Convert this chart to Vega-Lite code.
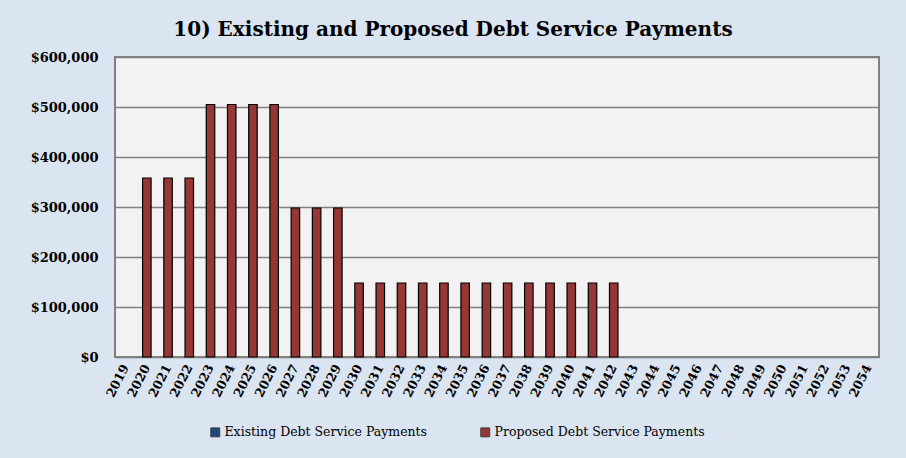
{
  "$schema": "https://vega.github.io/schema/vega-lite/v6.json",
  "width": 764,
  "height": 300,
  "autosize": "none",
  "padding": {"left": 115, "top": 57, "right": 27, "bottom": 101},
  "background": "#dbe5f1",
  "title": {
    "text": "10) Existing and Proposed Debt Service Payments",
    "font": "DejaVu Serif",
    "fontSize": 20,
    "fontWeight": "bold",
    "color": "#000000",
    "anchor": "middle",
    "dx": -44,
    "offset": 11
  },
  "data": {
    "values": [
      {"year": "2019", "series": "Existing Debt Service Payments", "amount": 0},
      {"year": "2020", "series": "Existing Debt Service Payments", "amount": 0},
      {"year": "2021", "series": "Existing Debt Service Payments", "amount": 0},
      {"year": "2022", "series": "Existing Debt Service Payments", "amount": 0},
      {"year": "2023", "series": "Existing Debt Service Payments", "amount": 0},
      {"year": "2024", "series": "Existing Debt Service Payments", "amount": 0},
      {"year": "2025", "series": "Existing Debt Service Payments", "amount": 0},
      {"year": "2026", "series": "Existing Debt Service Payments", "amount": 0},
      {"year": "2027", "series": "Existing Debt Service Payments", "amount": 0},
      {"year": "2028", "series": "Existing Debt Service Payments", "amount": 0},
      {"year": "2029", "series": "Existing Debt Service Payments", "amount": 0},
      {"year": "2030", "series": "Existing Debt Service Payments", "amount": 0},
      {"year": "2031", "series": "Existing Debt Service Payments", "amount": 0},
      {"year": "2032", "series": "Existing Debt Service Payments", "amount": 0},
      {"year": "2033", "series": "Existing Debt Service Payments", "amount": 0},
      {"year": "2034", "series": "Existing Debt Service Payments", "amount": 0},
      {"year": "2035", "series": "Existing Debt Service Payments", "amount": 0},
      {"year": "2036", "series": "Existing Debt Service Payments", "amount": 0},
      {"year": "2037", "series": "Existing Debt Service Payments", "amount": 0},
      {"year": "2038", "series": "Existing Debt Service Payments", "amount": 0},
      {"year": "2039", "series": "Existing Debt Service Payments", "amount": 0},
      {"year": "2040", "series": "Existing Debt Service Payments", "amount": 0},
      {"year": "2041", "series": "Existing Debt Service Payments", "amount": 0},
      {"year": "2042", "series": "Existing Debt Service Payments", "amount": 0},
      {"year": "2043", "series": "Existing Debt Service Payments", "amount": 0},
      {"year": "2044", "series": "Existing Debt Service Payments", "amount": 0},
      {"year": "2045", "series": "Existing Debt Service Payments", "amount": 0},
      {"year": "2046", "series": "Existing Debt Service Payments", "amount": 0},
      {"year": "2047", "series": "Existing Debt Service Payments", "amount": 0},
      {"year": "2048", "series": "Existing Debt Service Payments", "amount": 0},
      {"year": "2049", "series": "Existing Debt Service Payments", "amount": 0},
      {"year": "2050", "series": "Existing Debt Service Payments", "amount": 0},
      {"year": "2051", "series": "Existing Debt Service Payments", "amount": 0},
      {"year": "2052", "series": "Existing Debt Service Payments", "amount": 0},
      {"year": "2053", "series": "Existing Debt Service Payments", "amount": 0},
      {"year": "2054", "series": "Existing Debt Service Payments", "amount": 0},
      {"year": "2019", "series": "Proposed Debt Service Payments", "amount": 0},
      {"year": "2020", "series": "Proposed Debt Service Payments", "amount": 358000},
      {"year": "2021", "series": "Proposed Debt Service Payments", "amount": 358000},
      {"year": "2022", "series": "Proposed Debt Service Payments", "amount": 358000},
      {"year": "2023", "series": "Proposed Debt Service Payments", "amount": 505000},
      {"year": "2024", "series": "Proposed Debt Service Payments", "amount": 505000},
      {"year": "2025", "series": "Proposed Debt Service Payments", "amount": 505000},
      {"year": "2026", "series": "Proposed Debt Service Payments", "amount": 505000},
      {"year": "2027", "series": "Proposed Debt Service Payments", "amount": 298000},
      {"year": "2028", "series": "Proposed Debt Service Payments", "amount": 298000},
      {"year": "2029", "series": "Proposed Debt Service Payments", "amount": 298000},
      {"year": "2030", "series": "Proposed Debt Service Payments", "amount": 148000},
      {"year": "2031", "series": "Proposed Debt Service Payments", "amount": 148000},
      {"year": "2032", "series": "Proposed Debt Service Payments", "amount": 148000},
      {"year": "2033", "series": "Proposed Debt Service Payments", "amount": 148000},
      {"year": "2034", "series": "Proposed Debt Service Payments", "amount": 148000},
      {"year": "2035", "series": "Proposed Debt Service Payments", "amount": 148000},
      {"year": "2036", "series": "Proposed Debt Service Payments", "amount": 148000},
      {"year": "2037", "series": "Proposed Debt Service Payments", "amount": 148000},
      {"year": "2038", "series": "Proposed Debt Service Payments", "amount": 148000},
      {"year": "2039", "series": "Proposed Debt Service Payments", "amount": 148000},
      {"year": "2040", "series": "Proposed Debt Service Payments", "amount": 148000},
      {"year": "2041", "series": "Proposed Debt Service Payments", "amount": 148000},
      {"year": "2042", "series": "Proposed Debt Service Payments", "amount": 148000},
      {"year": "2043", "series": "Proposed Debt Service Payments", "amount": 0},
      {"year": "2044", "series": "Proposed Debt Service Payments", "amount": 0},
      {"year": "2045", "series": "Proposed Debt Service Payments", "amount": 0},
      {"year": "2046", "series": "Proposed Debt Service Payments", "amount": 0},
      {"year": "2047", "series": "Proposed Debt Service Payments", "amount": 0},
      {"year": "2048", "series": "Proposed Debt Service Payments", "amount": 0},
      {"year": "2049", "series": "Proposed Debt Service Payments", "amount": 0},
      {"year": "2050", "series": "Proposed Debt Service Payments", "amount": 0},
      {"year": "2051", "series": "Proposed Debt Service Payments", "amount": 0},
      {"year": "2052", "series": "Proposed Debt Service Payments", "amount": 0},
      {"year": "2053", "series": "Proposed Debt Service Payments", "amount": 0},
      {"year": "2054", "series": "Proposed Debt Service Payments", "amount": 0}
    ]
  },
  "mark": {"type": "bar", "width": {"band": 0.4}, "stroke": "#000000", "strokeWidth": 1.2},
  "encoding": {
    "x": {
      "field": "year",
      "type": "ordinal",
      "scale": {"paddingInner": 0, "paddingOuter": 0},
      "axis": {
        "title": null,
        "labelAngle": -63,
        "labelFont": "DejaVu Serif",
        "labelFontWeight": "bold",
        "labelFontSize": 12.5,
        "labelColor": "#000000",
        "ticks": false,
        "domain": false,
        "labelPadding": 8
      }
    },
    "y": {
      "field": "amount",
      "type": "quantitative",
      "stack": null,
      "scale": {"domain": [0, 600000]},
      "axis": {
        "title": null,
        "values": [0, 100000, 200000, 300000, 400000, 500000, 600000],
        "format": "$,.0f",
        "labelFont": "DejaVu Serif",
        "labelFontWeight": "bold",
        "labelFontSize": 13,
        "labelColor": "#000000",
        "ticks": false,
        "domain": false,
        "labelPadding": 17,
        "grid": true,
        "gridColor": "#808080",
        "gridWidth": 1.5
      }
    },
    "color": {
      "field": "series",
      "type": "nominal",
      "scale": {
        "domain": ["Existing Debt Service Payments", "Proposed Debt Service Payments"],
        "range": ["#1f497d", "#953735"]
      },
      "legend": {
        "title": null,
        "orient": "none",
        "direction": "horizontal",
        "legendX": 94,
        "legendY": 369,
        "symbolType": "square",
        "symbolSize": 80,
        "symbolStrokeColor": "#404040",
        "symbolStrokeWidth": 1,
        "labelFont": "DejaVu Serif",
        "labelFontSize": 12.5,
        "labelColor": "#000000",
        "labelLimit": 0,
        "columnPadding": 50,
        "labelOffset": 3
      }
    },
    "strokeOpacity": {
      "condition": {"test": "datum.amount > 0", "value": 1},
      "value": 0
    }
  },
  "config": {
    "view": {"fill": "#f2f2f2", "stroke": "#808080", "strokeWidth": 2}
  }
}
